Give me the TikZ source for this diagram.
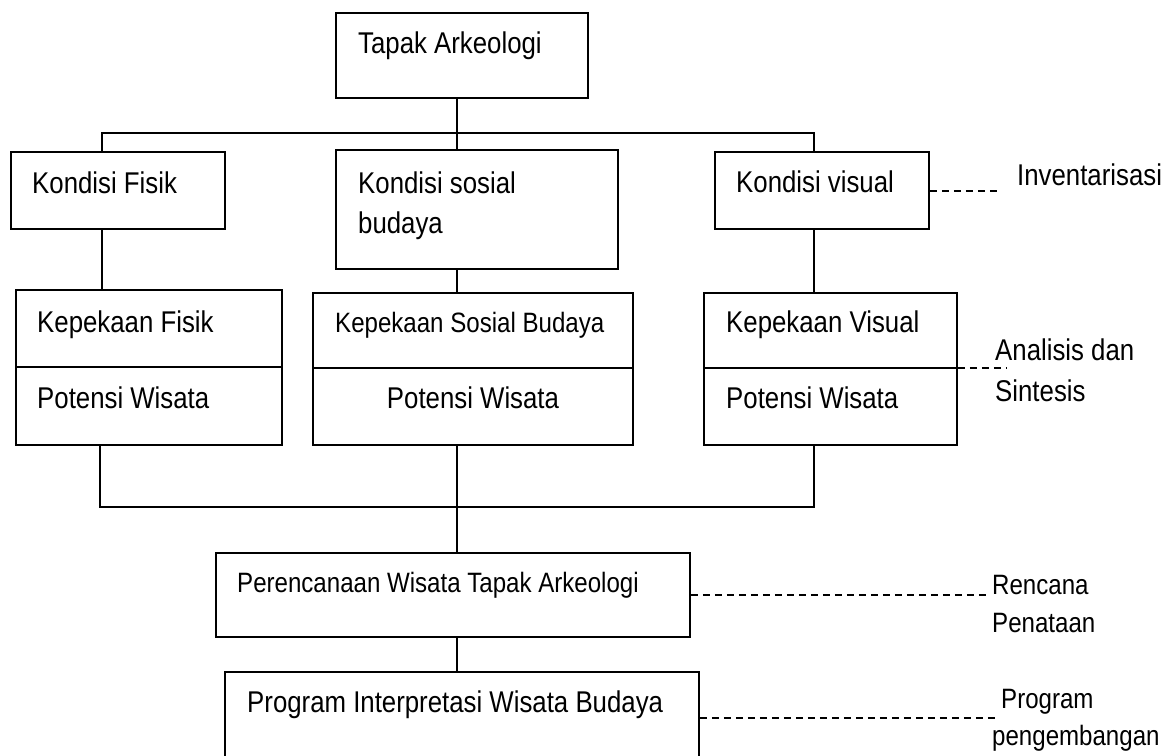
\documentclass[tikz,border=0pt]{standalone}
\usepackage{fontspec}
\setmainfont{Liberation Sans}[FakeStretch=0.86]
\usetikzlibrary{fit}
\begin{document}
\begin{tikzpicture}[x=1pt,y=-1pt,
  boxst/.style={draw=black,line width=1.8pt,inner sep=0pt,fill=none},
  txt/.style={inner sep=0pt,anchor=base west,font=\fontsize{30}{36}\selectfont},
  txtc/.style={inner sep=0pt,anchor=base,font=\fontsize{30}{36}\selectfont},
  small/.style={font=\fontsize{28}{34}\selectfont},
  conn/.style={draw=black,line width=1.8pt},
  dconn/.style={draw=black,line width=1.6pt,dash pattern=on 7pt off 5pt}]
\useasboundingbox[fill=white] (0,0) rectangle (1174,755);

% boxes
\node[boxst,fit={(336,13)(588,98)}] (tapak) {};
\node[boxst,fit={(11,152)(225,229)}] (fisik) {};
\node[boxst,fit={(336,150)(618,269)}] (sosial) {};
\node[boxst,fit={(715,152)(929,229)}] (visual) {};
\node[boxst,fit={(16,290)(282,445)}] (kfisik) {};
\node[boxst,fit={(313,293)(633,445)}] (ksosial) {};
\node[boxst,fit={(704,293)(957,445)}] (kvisual) {};
\node[boxst,fit={(216,553)(690,637)}] (renc) {};
\node[boxst,fit={(225,672)(699,790)}] (prog) {};

% dividers
\draw[conn] (kfisik.west |- 0,367) -- (kfisik.east |- 0,367);
\draw[conn] (ksosial.west |- 0,368) -- (ksosial.east |- 0,368);
\draw[conn] (kvisual.west |- 0,368) coordinate (kvdivw) -- (kvisual.east |- 0,368) coordinate (kvdive);

% texts
\node[txt] (t1) at (358,53) {Tapak Arkeologi};
\node[txt] (t2) at (32,193) {Kondisi Fisik};
\node[txt] (t3) at (358,193) {Kondisi sosial};
\node[txt] (t3b) at (358,233) {budaya};
\node[txt] (t4) at (736,192) {Kondisi visual};
\node[txt] (t5) at (37,332) {Kepekaan Fisik};
\node[txt] (t5b) at (37,408) {Potensi Wisata};
\node[txt,small] (t6) at (335,332) {Kepekaan Sosial Budaya};
\node[txtc] (t6b) at (473,408) {Potensi Wisata};
\node[txt] (t7) at (726,332) {Kepekaan Visual};
\node[txt] (t7b) at (726,408) {Potensi Wisata};
\node[txt,small] (t8) at (237,592) {Perencanaan Wisata Tapak Arkeologi};
\node[txt] (t9) at (247,712) {Program Interpretasi Wisata Budaya};

% side labels
\node[txt] (l1) at (1017,185) {Inventarisasi};
\node[txt] (l2) at (995,360) {Analisis dan};
\node[txt] (l2b) at (995,401) {Sintesis};
\node[txt,small] (l3) at (992,594) {Rencana};
\node[txt,small] (l3b) at (992,632) {Penataan};
\node[txt,small] (l4) at (1001,708) {Program};
\node[txt,small] (l4b) at (992,745) {pengembangan};

% junction coordinates
\coordinate (jc) at (457,133);
\coordinate (hl) at (102,133);
\coordinate (hr) at (814,133);
\coordinate (bl) at (100,507);
\coordinate (bc) at (457,507);
\coordinate (br) at (814,507);

% tree connectors
\draw[conn] (tapak.south -| jc) -- (sosial.north -| jc);
\draw[conn] (fisik.north -| hl) -- (hl) -- (hr) -- (visual.north -| hr);
\draw[conn] (fisik.south -| hl) -- (kfisik.north -| hl);
\draw[conn] (sosial.south -| jc) -- (ksosial.north -| jc);
\draw[conn] (visual.south -| hr) -- (kvisual.north -| hr);
\draw[conn] (kfisik.south -| bl) -- (bl) -- (br) -- (kvisual.south -| br);
\draw[conn] (ksosial.south -| bc) -- (renc.north -| bc);
\draw[conn] (renc.south -| bc) -- (prog.north -| bc);

% dashed connectors
\coordinate (d1) at (999,191);
\coordinate (d2) at (1007,368);
\coordinate (d3) at (990,595);
\coordinate (d4) at (997,718);
\draw[dconn] (visual.east |- d1) -- (d1);
\draw[dconn] (kvdive) -- (d2);
\draw[dconn] (renc.east |- d3) -- (d3);
\draw[dconn] (prog.east |- d4) -- (d4);
\end{tikzpicture}
\end{document}
